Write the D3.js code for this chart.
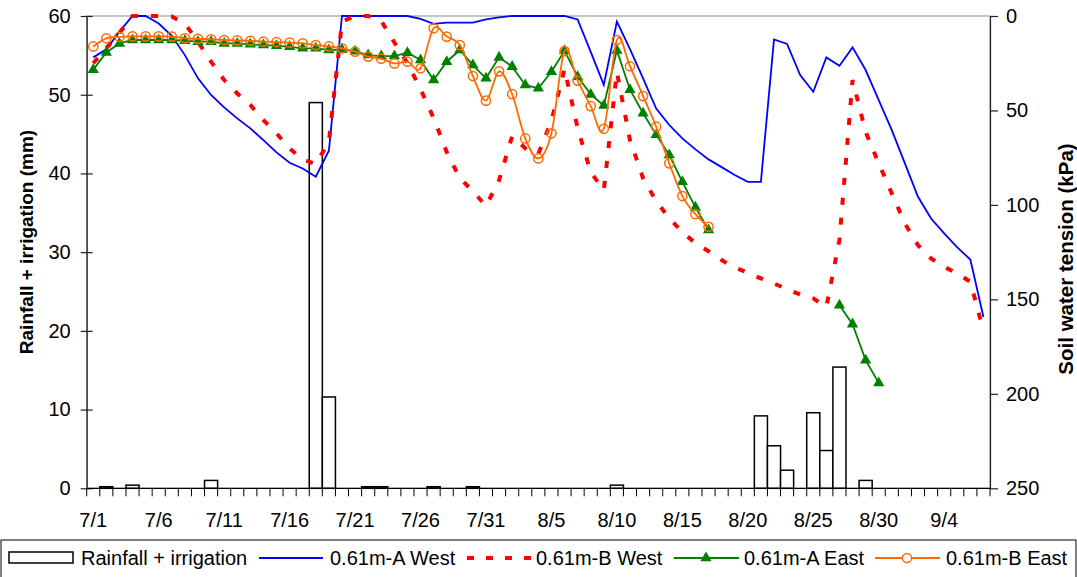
<!DOCTYPE html>
<html>
<head>
<meta charset="utf-8">
<script src="https://cdn.jsdelivr.net/npm/d3@7"></script>
<style>
  body { margin: 0; background: #fff; }
  svg { display: block; font-family: "Liberation Sans", Arial, sans-serif; }
</style>
</head>
<body>
<svg id="chart" width="1077" height="577"></svg>
<script>
// Daily categories, 1 July – 7 September
const categories = [
  "7/1","7/2","7/3","7/4","7/5","7/6","7/7","7/8","7/9","7/10",
  "7/11","7/12","7/13","7/14","7/15","7/16","7/17","7/18","7/19","7/20",
  "7/21","7/22","7/23","7/24","7/25","7/26","7/27","7/28","7/29","7/30","7/31",
  "8/1","8/2","8/3","8/4","8/5","8/6","8/7","8/8","8/9","8/10",
  "8/11","8/12","8/13","8/14","8/15","8/16","8/17","8/18","8/19","8/20",
  "8/21","8/22","8/23","8/24","8/25","8/26","8/27","8/28","8/29","8/30","8/31",
  "9/1","9/2","9/3","9/4","9/5","9/6","9/7"
];
const xTickLabels = ["7/1","7/6","7/11","7/16","7/21","7/26","7/31","8/5","8/10","8/15","8/20","8/25","8/30","9/4"];
const leftTicks = [0, 10, 20, 30, 40, 50, 60];
const rightTicks = [0, 50, 100, 150, 200, 250];

// Rainfall + irrigation (mm)
const rainfall = [
  0, 0.2, 0, 0.4, 0, 0, 0, 0, 0, 1.0,
  0, 0, 0, 0, 0, 0, 0, 49, 11.6, 0,
  0, 0.2, 0.2, 0, 0, 0, 0.2, 0, 0, 0.2, 0,
  0, 0, 0, 0, 0, 0, 0, 0, 0, 0.4,
  0, 0, 0, 0, 0, 0, 0, 0, 0, 0,
  9.2, 5.4, 2.3, 0, 9.6, 4.8, 15.4, 0, 1.0, 0, 0,
  0, 0, 0, 0, 0, 0, 0
];

// Soil water tension (kPa)
const aWest = [
  21.9, 17.6, 8.3, 0, 0, 4.0, 10.5, 20.7, 33.0, 41.8,
  48.4, 54.2, 59.5, 65.7, 72.2, 77.7, 80.7, 85.1, 71.3, 0,
  0, 0, 0, 0, 0, 1.5, 4.2, 3.5, 3.5, 3.5, 1.8,
  0.7, 0, 0, 0, 0, 0, 1.8, 19.0, 36.5, 3.0,
  17.5, 33.0, 49.0, 57.7, 64.8, 70.6, 75.9, 80.0, 84.2, 87.8,
  87.8, 12.4, 14.8, 31.3, 40.1, 21.9, 26.3, 16.6, 28.6, 44.5, 60.4,
  78.0, 95.7, 107.2, 115.1, 122.5, 128.9, 159.3
];
const bWest = [
  25.0, 17.0, 9.0, 0, 0, 0, 0.3, 4.0, 13.6, 24.2,
  33.9, 41.0, 47.1, 55.1, 62.1, 70.1, 75.9, 78.4, 66.6, 3.0,
  0, 0, 2.6, 14.0, 25.0, 38.7, 54.0, 72.0, 85.8, 92.7, 100.6,
  86.9, 63.6, 70.0, 73.0, 55.4, 28.0, 59.3, 82.6, 92.2, 29.7,
  65.7, 85.8, 98.0, 107.0, 114.4, 120.2, 124.5, 129.2, 133.1, 135.9,
  138.9, 141.6, 144.6, 147.4, 149.5, 154.0, 118.6, 33.9, 61.3, 78.0, 93.9,
  109.8, 121.3, 128.3, 132.8, 136.3, 140.7, 166.7
];
const aEast = [
  28.4, 19.3, 14.5, 12.7, 12.7, 12.7, 12.7, 13.1, 13.6, 13.6,
  14.5, 14.5, 15.0, 15.4, 15.7, 16.3, 17.1, 17.1, 18.0, 17.8,
  18.7, 20.7, 21.2, 21.2, 19.4, 23.3, 33.9, 24.2, 18.0, 26.0, 33.0,
  21.9, 26.8, 36.5, 38.3, 29.5, 18.4, 32.1, 41.5, 47.4, 18.2,
  39.0, 51.5, 62.8, 73.6, 87.8, 101.3, 113.3, null, null, null,
  null, null, null, null, null, null, 153.1, 163.1, 182.2, 194.2, null,
  null, null, null, null, null, null, null
];
const bEast = [
  16.1, 11.8, 11.0, 10.8, 10.8, 10.8, 10.9, 11.8, 12.1, 12.3,
  12.7, 12.9, 13.1, 13.6, 13.8, 14.1, 14.5, 15.4, 16.1, 17.1,
  18.9, 21.5, 22.6, 25.1, 24.2, 27.7, 6.5, 10.9, 15.4, 31.8, 44.8,
  29.3, 41.4, 64.8, 75.4, 62.1, 18.6, 34.2, 47.7, 59.7, 12.7,
  26.6, 42.4, 58.6, 78.0, 95.3, 104.9, 111.6, null, null, null,
  null, null, null, null, null, null, null, null, null, null, null,
  null, null, null, null, null, null, null
];

const svg = d3.select("#chart");
const plot = { left: 86.7, right: 990, top: 16, bottom: 488.3 };

const x = d3.scaleBand().domain(categories).range([plot.left, plot.right]).padding(0);
const bw = x.bandwidth();
const yL = d3.scaleLinear().domain([0, 60]).range([plot.bottom, plot.top]);
const yR = d3.scaleLinear().domain([0, 250]).range([plot.top, plot.bottom]);

// plot-area frame
svg.append("rect")
  .attr("x", plot.left).attr("y", plot.top)
  .attr("width", plot.right - plot.left).attr("height", plot.bottom - plot.top)
  .attr("fill", "none").attr("stroke", "#8c8c8c").attr("stroke-width", 1);

// rainfall bars
svg.append("g").selectAll("rect")
  .data(categories.map((c, i) => ({ c, v: rainfall[i] })).filter(d => d.v > 0))
  .join("rect")
  .attr("x", d => x(d.c))
  .attr("y", d => yL(d.v))
  .attr("width", bw)
  .attr("height", d => yL(0) - yL(d.v))
  .attr("fill", "#fff")
  .attr("stroke", "#000")
  .attr("stroke-width", 1.5);

// axes
const leftAxis = svg.append("g")
  .attr("transform", `translate(${plot.left},0)`)
  .call(d3.axisLeft(yL).tickValues(leftTicks).tickSize(6).tickPadding(10).tickSizeOuter(0));
leftAxis.selectAll(".tick line").attr("x1", 6).attr("x2", -6);

const rightAxis = svg.append("g")
  .attr("transform", `translate(${plot.right},0)`)
  .call(d3.axisRight(yR).tickValues(rightTicks).tickSize(8).tickPadding(8).tickSizeOuter(0));

[leftAxis, rightAxis].forEach(g => {
  g.select(".domain").attr("stroke", "#222").attr("stroke-width", 1.2);
  g.selectAll(".tick line").attr("stroke", "#222").attr("stroke-width", 1.2);
  g.selectAll(".tick text").attr("font-size", 20).attr("fill", "#000")
    .attr("font-family", "'Liberation Sans', Arial, sans-serif");
});

// category axis: ticks between days, labels every fifth day
const xAxis = svg.append("g");
xAxis.append("line")
  .attr("x1", plot.left).attr("x2", plot.right)
  .attr("y1", plot.bottom).attr("y2", plot.bottom)
  .attr("stroke", "#000").attr("stroke-width", 1.2);
xAxis.selectAll("line.tk")
  .data(categories.concat([null]))
  .join("line").attr("class", "tk")
  .attr("x1", (d, i) => plot.left + i * bw)
  .attr("x2", (d, i) => plot.left + i * bw)
  .attr("y1", plot.bottom).attr("y2", plot.bottom + 8)
  .attr("stroke", "#000").attr("stroke-width", 1);
xAxis.selectAll("text")
  .data(xTickLabels)
  .join("text")
  .attr("x", d => x(d) + bw / 2)
  .attr("y", 527)
  .attr("text-anchor", "middle")
  .attr("font-size", 20)
  .text(d => d);

// axis titles
svg.append("text")
  .attr("transform", "translate(33,242) rotate(-90)")
  .attr("text-anchor", "middle")
  .attr("font-size", 19).attr("font-weight", "bold")
  .text("Rainfall + irrigation (mm)");
svg.append("text")
  .attr("transform", "translate(1073,259) rotate(-90)")
  .attr("text-anchor", "middle")
  .attr("font-size", 20.5).attr("font-weight", "bold")
  .text("Soil water tension (kPa)");

// tension series
const pts = arr => categories.map((c, i) => ({ c, v: arr[i] }));
const lineGen = d3.line()
  .defined(d => d.v != null)
  .x(d => x(d.c) + bw / 2)
  .y(d => yR(d.v));
const smoothGen = d3.line()
  .defined(d => d.v != null)
  .curve(d3.curveCatmullRom.alpha(0))
  .x(d => x(d.c) + bw / 2)
  .y(d => yR(d.v));

svg.append("path").datum(pts(aWest))
  .attr("d", lineGen).attr("fill", "none")
  .attr("stroke", "#0000ff").attr("stroke-width", 1.8);

svg.append("path").datum(pts(bWest))
  .attr("d", lineGen).attr("fill", "none")
  .attr("stroke", "#ff0000").attr("stroke-width", 4)
  .attr("stroke-dasharray", "7,13");

svg.append("path").datum(pts(aEast))
  .attr("d", lineGen).attr("fill", "none")
  .attr("stroke", "#008000").attr("stroke-width", 1.8);
const tri = d3.symbol().type(d3.symbolTriangle).size(55);
svg.append("g").selectAll("path")
  .data(pts(aEast).filter(d => d.v != null))
  .join("path")
  .attr("d", tri)
  .attr("transform", d => `translate(${x(d.c) + bw / 2},${yR(d.v)})`)
  .attr("fill", "#008000");

svg.append("path").datum(pts(bEast))
  .attr("d", smoothGen).attr("fill", "none")
  .attr("stroke", "#ff6a00").attr("stroke-width", 1.8);
svg.append("g").selectAll("circle")
  .data(pts(bEast).filter(d => d.v != null))
  .join("circle")
  .attr("cx", d => x(d.c) + bw / 2)
  .attr("cy", d => yR(d.v))
  .attr("r", 4.6)
  .attr("fill", "none")
  .attr("stroke", "#ff6a00").attr("stroke-width", 1.5);

// legend
const lg = svg.append("g");
lg.append("rect")
  .attr("x", 1).attr("y", 540).attr("width", 1075).attr("height", 45)
  .attr("fill", "#fff").attr("stroke", "#000").attr("stroke-width", 1);
const ly = 558, lty = 565;
lg.append("rect").attr("x", 9).attr("y", 552).attr("width", 64).attr("height", 11)
  .attr("fill", "#fff").attr("stroke", "#000").attr("stroke-width", 1.5);
lg.append("line").attr("x1", 259).attr("x2", 323).attr("y1", ly).attr("y2", ly)
  .attr("stroke", "#0000ff").attr("stroke-width", 1.8);
lg.append("line").attr("x1", 467).attr("x2", 531).attr("y1", ly).attr("y2", ly)
  .attr("stroke", "#ff0000").attr("stroke-width", 4).attr("stroke-dasharray", "7,12");
lg.append("line").attr("x1", 674).attr("x2", 739).attr("y1", ly).attr("y2", ly)
  .attr("stroke", "#008000").attr("stroke-width", 1.8);
lg.append("path").attr("d", tri).attr("transform", `translate(706,${ly})`).attr("fill", "#008000");
lg.append("line").attr("x1", 875).attr("x2", 940).attr("y1", ly).attr("y2", ly)
  .attr("stroke", "#ff6a00").attr("stroke-width", 1.8);
lg.append("circle").attr("cx", 907).attr("cy", ly).attr("r", 4.6)
  .attr("fill", "#fff").attr("stroke", "#ff6a00").attr("stroke-width", 1.5);

const legendLabels = [
  { t: "Rainfall + irrigation", x: 81 },
  { t: "0.61m-A West", x: 330 },
  { t: "0.61m-B West", x: 536 },
  { t: "0.61m-A East", x: 744 },
  { t: "0.61m-B East", x: 946 }
];
lg.selectAll("text.lt").data(legendLabels).join("text").attr("class", "lt")
  .attr("x", d => d.x).attr("y", lty)
  .attr("font-size", 20)
  .text(d => d.t);
</script>
</body>
</html>
